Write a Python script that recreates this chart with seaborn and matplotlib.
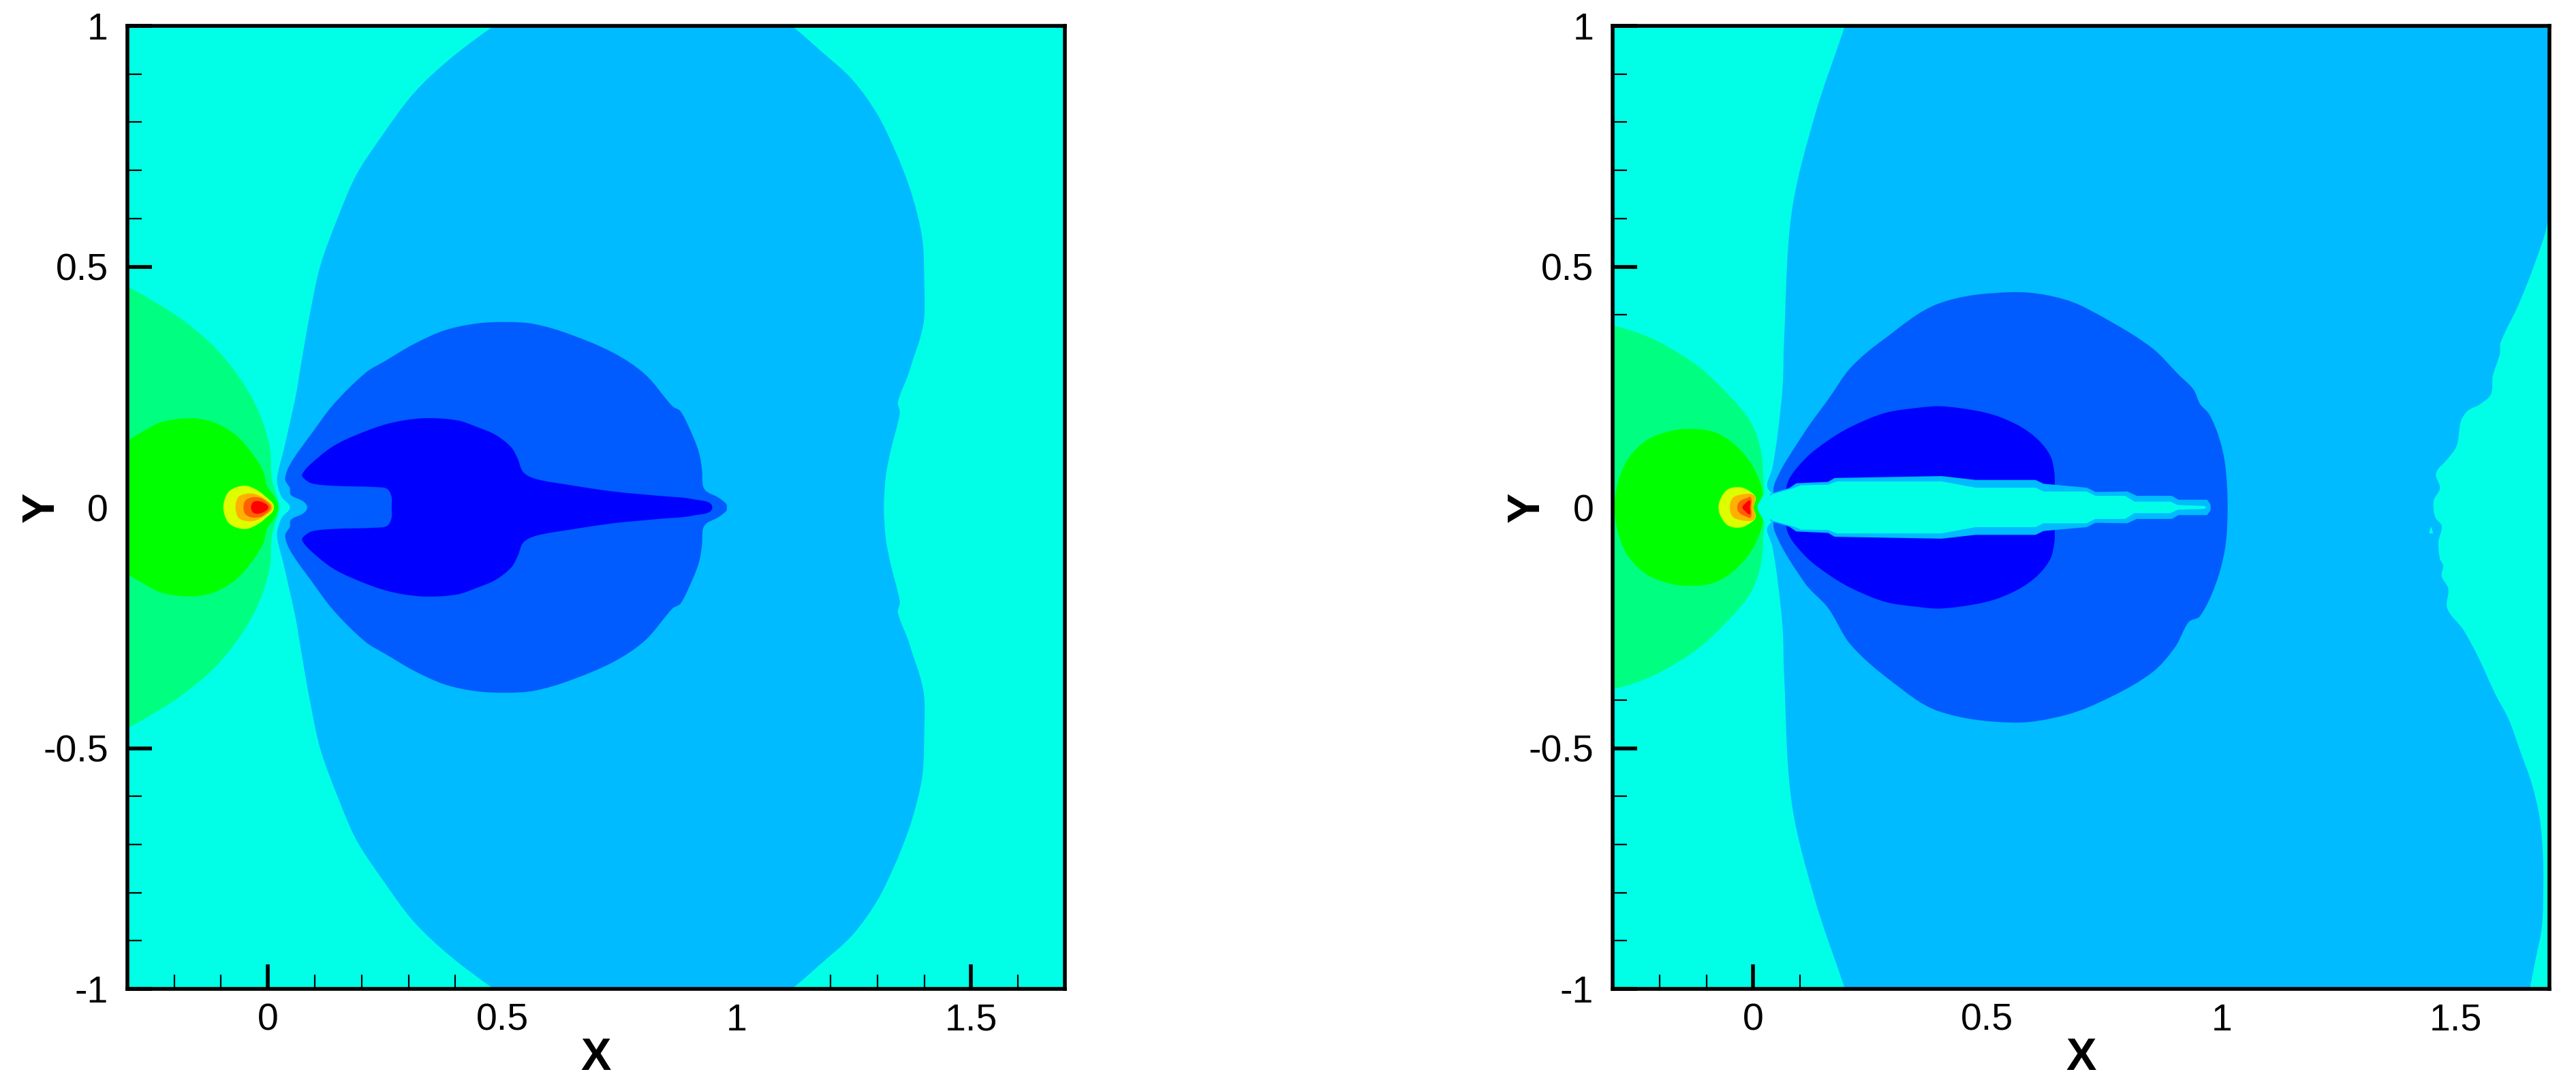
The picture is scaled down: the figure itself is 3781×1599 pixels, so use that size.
import numpy as np
import matplotlib
matplotlib.use("Agg")
import matplotlib.pyplot as plt
from matplotlib.patches import PathPatch
from matplotlib.path import Path
from matplotlib.ticker import FixedLocator
import seaborn as sns

# ---- contour band outlines, in data units (X, Y) ----
# Upper halves; mirrored about Y = 0 when drawn.  Outlines run on past the frame, which clips them.
L_spring = [(-.40,.49),(-.30,.458),(-.237,.424),(-.186,.392),(-.121,.340),(-.072,.285),(-.033,.226),(-.009,.172),
            (.005,.120),(.008,.064),(.015,.035),(.025,0)]
L_green = [(-.38,.07),(-.30,.137),(-.266,.158),(-.227,.177),(-.169,.185),(-.116,.177),(-.067,.149),(-.029,.106),
           (-.009,.073),(-.002,.045),(.015,.021),(.022,0)]
L_light = [(.047,0),(.030,.021),(.021,.045),(.020,.064),(.034,.120),(.059,.229),(.072,.304),(.090,.403),
           (.112,.502),(.151,.606),(.189,.691),(.243,.771),(.311,.860),(.388,.931),(.482,1.0),(.56,1.05),(1.04,1.05),(1.117,1.0),
           (1.177,.950),(1.246,.889),(1.299,.818),(1.337,.743),(1.366,.672),(1.386,.606),(1.397,.549),
           (1.400,.470),(1.400,.394),(1.391,.351),(1.375,.304),(1.366,.276),(1.344,.219),(1.348,.198),
           (1.344,.177),(1.328,.116),(1.318,.064),(1.314,0)]
L_medium = [(.084,0),(.076,.012),(.049,.026),(.047,.040),(.037,.059),(.049,.092),(.093,.153),(.141,.215),
            (.209,.280),(.250,.304),(.311,.339),(.378,.368),(.446,.382),(.509,.385),(.567,.381),(.640,.361),
            (.737,.321),(.805,.276),(.863,.210),(.880,.200),(.902,.158),(.919,.116),(.926,.078),(.928,.045),
            (.936,.033),(.960,.021),(.978,.007),(.979,0)]
L_deep = [(.264,0),(.264,.021),(.255,.038),(.233,.042),(.136,.045),(.093,.050),(.076,.061),(.073,.068),
          (.088,.087),(.136,.125),(.185,.149),(.257,.174),(.330,.185),(.403,.181),(.446,.167),(.485,.151),
          (.519,.125),(.533,.101),(.545,.073),(.572,.059),(.640,.047),(.737,.033),(.834,.024),(.907,.017),
          (.948,0)]
L_yellow = [(-.095,0),(-.087,.028),(-.072,.040),(-.048,.045),(-.029,.039),(-.009,.026),(.013,0)]
L_orange = [(-.069,0),(-.063,.021),(-.048,.028),(-.029,.028),(-.009,.019),(.010,0)]
L_darkorange = [(-.052,0),(-.048,.014),(-.033,.021),(-.014,.019),(.003,.007),(.006,0)]
L_red = [(-.036,0),(-.031,.011),(-.019,.013),(-.004,.007),(.001,0)]

R_spring = [(-.40,.40),(-.30,.378),(-.245,.362),(-.194,.340),(-.116,.292),(-.049,.230),(-.005,.177),(.017,.116),
            (.022,.054),(.023,.026),(.010,.014),(.010,0)]
R_green = [(-.296,0),(-.288,.054),(-.267,.101),(-.228,.139),(-.179,.158),(-.133,.163),(-.082,.156),
           (-.039,.130),(-.005,.092),(.014,.054),(.020,.026),(.009,0)]
R_light_left = [(.041,0),(.041,.027),(.031,.040),(.030,.050),(.041,.082),(.053,.158),(.063,.252),(.066,.347),
                (.082,.611),(.132,.815),(.196,1.0),(.215,1.06)]
R_light_right = [(1.70,1.06),(1.695,1.0),(1.703,.96),(1.72,.8),(1.696,.592),(1.667,.502),(1.633,.419),(1.596,.343),
                 (1.594,.318),(1.579,.273),(1.575,.235),(1.550,.213),(1.526,.201),(1.511,.179),(1.502,.128),
                 (1.482,.100),(1.458,.071),(1.466,.040),(1.453,.014),(1.456,-.020),(1.470,-.039),(1.463,-.071),
                 (1.466,-.106),(1.473,-.121),(1.470,-.143),(1.484,-.169),(1.482,-.210),(1.516,-.254),
                 (1.548,-.311),(1.584,-.387),(1.613,-.440),(1.636,-.502),(1.662,-.573),(1.679,-.644),
                 (1.686,-.719),(1.687,-.785),(1.684,-.870),(1.671,-.936),(1.658,-1.0),(1.645,-1.06)]
R_speck = [(1.443,-.054),(1.447,-.039),(1.452,-.054)]
R_medium_top = [(.046,0),(.046,.050),(.111,.158),(.160,.224),(.208,.290),(.276,.347),(.395,.423),(.552,.447),
                (.668,.431),(.765,.385),(.853,.330),(.908,.276),(.940,.245),(.954,.215),(.974,.193),(.995,.144),
                (1.008,.087),(1.013,0)]
R_medium_bottom = [(1.008,-.082),(.988,-.158),(.954,-.226),(.930,-.238),(.901,-.290),(.853,-.342),(.765,-.393),
                   (.668,-.431),(.552,-.447),(.395,-.423),(.295,-.361),(.208,-.285),(.160,-.209),(.111,-.158),(.046,-.050)]
R_deep = [(.073,0),(.073,.050),(.111,.101),(.160,.139),(.208,.167),(.281,.196),(.354,.207),(.402,.210),
          (.475,.201),(.523,.189),(.572,.167),(.610,.139),(.635,.106),(.643,.073),(.644,.050),(.644,0)]
R_tail_halo = [(.036,0),(.036,.028),(.077,.040),(.092,.050),(.160,.053),(.174,.061),(.402,.065),(.475,.057),
               (.603,.057),(.620,.049),(.712,.041),(.731,.032),(.799,.033),(.819,.024),(.894,.024),(.908,.016),
               (.969,.016),(.976,.007),(.977,0)]
R_tail_core = [(.030,0),(.030,.020),(.043,.028),(.087,.040),(.102,.046),(.160,.047),(.179,.054),(.402,.054),
               (.475,.041),(.603,.041),(.620,.033),(.712,.033),(.731,.024),(.794,.024),(.814,.012),(.891,.012),
               (.906,.005),(.964,.003),(.967,0)]
R_yellow = [(-.074,0),(-.068,.021),(-.053,.038),(-.029,.042),(-.010,.035),(.005,.021),(.001,0)]
R_orange = [(-.050,0),(-.044,.019),(-.029,.026),(-.005,.028),(.004,.021),(.001,0)]
R_darkorange = [(-.034,0),(-.029,.012),(-.015,.019),(-.005,.021),(-.004,0)]
R_red = [(-.023,0),(-.017,.008),(-.007,.014),(-.007,0)]

x_major = [0, 0.5, 1, 1.5]
x_labels = ["0", "0.5", "1", "1.5"]
y_major = [-1, -0.5, 0, 0.5, 1]
y_labels = ["-1", "-0.5", "0", "0.5", "1"]
x_minor = [-.2, -.1, .1, .2, .3, .4, .6, .7, .8, .9, 1.1, 1.2, 1.3, 1.4, 1.6]
y_minor = [-.9, -.8, -.7, -.6, -.4, -.3, -.2, -.1, .1, .2, .3, .4, .6, .7, .8, .9]

C_CYAN, C_LIGHT, C_MED, C_DEEP = "#00FFE6", "#00BBFF", "#005CFF", "#0000FF"
C_SPRING, C_GREEN, C_YEL, C_ORA, C_DOR, C_RED = "#00FF80", "#00FF00", "#DDFF00", "#FFB000", "#FF6000", "#FF0000"

sns.set_theme(style="ticks")
plt.rcParams["font.family"] = ["Liberation Sans", "DejaVu Sans"]

W, H = 3781, 1599
fig = plt.figure(figsize=(W / 100, H / 100), dpi=100, facecolor="white")


def mirrored(upper):
    pts = list(upper)
    low = [(x, -y) for x, y in reversed(upper) if y != 0]
    return pts + low


def fill(ax, pts, color):
    a = np.array(pts)
    ax.fill(a[:, 0], a[:, 1], color=color, lw=0, zorder=2)


def fill_smooth(ax, pts, color):
    """Closed outline through the read points, drawn with rounded joins (as the contour edges are)."""
    p = np.array(pts, dtype=float)
    n = len(p)
    prev_, next_ = np.roll(p, 1, axis=0), np.roll(p, -1, axis=0)
    d = next_ - prev_
    d /= np.maximum(np.linalg.norm(d, axis=1, keepdims=True), 1e-9)
    verts, codes = [p[0]], [Path.MOVETO]
    for i in range(n):
        j = (i + 1) % n
        seg = np.linalg.norm(p[j] - p[i]) / 3
        verts += [p[i] + d[i] * seg, p[j] - d[j] * seg, p[j]]
        codes += [Path.CURVE4] * 3
    ax.add_patch(PathPatch(Path(verts, codes), facecolor=color, edgecolor="none", lw=0, zorder=2))


def dress(ax):
    ax.set_facecolor(C_CYAN)
    ax.set_xlim(-0.3, 1.7)
    ax.set_ylim(-1, 1)
    ax.xaxis.set_major_locator(FixedLocator(x_major))
    ax.yaxis.set_major_locator(FixedLocator(y_major))
    ax.xaxis.set_minor_locator(FixedLocator(x_minor))
    ax.yaxis.set_minor_locator(FixedLocator(y_minor))
    ax.set_xticklabels(x_labels)
    ax.set_yticklabels(y_labels)
    ax.tick_params(axis="both", which="major", direction="in", length=26, width=4, color="black",
                   labelsize=40, labelcolor="black")
    ax.tick_params(axis="both", which="minor", direction="in", length=15, width=1.6, color="black")
    ax.tick_params(axis="x", which="major", pad=15)
    ax.tick_params(axis="y", which="major", pad=20)
    ax.tick_params(top=False, right=False, which="both")
    for s in ax.spines.values():
        s.set_visible(True)
        s.set_color("black")
        s.set_linewidth(4)
        s.set_zorder(6)
    ax.set_xlabel("X", fontsize=48, fontweight="bold", color="black", va="center")
    ax.set_ylabel("Y", fontsize=48, fontweight="bold", color="black", va="center")
    ax.xaxis.set_label_coords(0.5, -0.072)
    ax.yaxis.set_label_coords(-0.091, 0.5)


def make_axes(left, right):
    top, bottom = 38, 1452
    return fig.add_axes([left / W, 1 - bottom / H, (right - left) / W, (bottom - top) / H])


axL = make_axes(186.7, 1563)
for pts, c in [(L_spring, C_SPRING), (L_green, C_GREEN), (L_light, C_LIGHT), (L_medium, C_MED), (L_deep, C_DEEP),
               (L_yellow, C_YEL), (L_orange, C_ORA), (L_darkorange, C_DOR), (L_red, C_RED)]:
    fill_smooth(axL, mirrored(pts), c)
dress(axL)

axR = make_axes(2367, 3742)
fill_smooth(axR, mirrored(R_spring), C_SPRING)
fill_smooth(axR, mirrored(R_green), C_GREEN)
R_light = R_light_left + R_light_right + [(x, -y) for x, y in reversed(R_light_left) if y != 0]
fill_smooth(axR, R_light, C_LIGHT)
fill(axR, R_speck, C_CYAN)
fill_smooth(axR, R_medium_top + R_medium_bottom, C_MED)
fill_smooth(axR, mirrored(R_deep), C_DEEP)
fill(axR, mirrored(R_tail_halo), C_LIGHT)
fill(axR, mirrored(R_tail_core), C_CYAN)
for pts, c in [(R_yellow, C_YEL), (R_orange, C_ORA), (R_darkorange, C_DOR), (R_red, C_RED)]:
    fill_smooth(axR, mirrored(pts), c)
dress(axR)

fig.savefig("out.png", dpi=100, facecolor="white")
